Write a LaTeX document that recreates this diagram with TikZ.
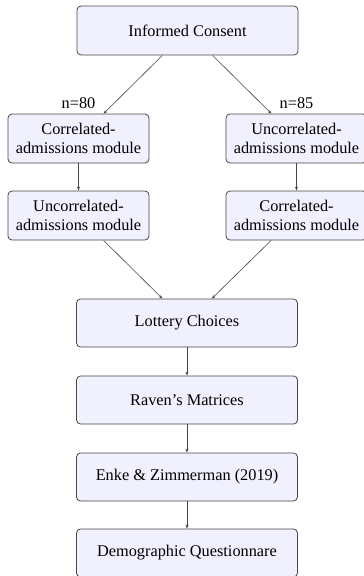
\documentclass[tikz,border=0pt]{standalone}
\usepackage{fontspec}
\setmainfont{Liberation Serif}
\usepackage{xcolor}
\usetikzlibrary{arrows.meta, positioning}
\definecolor{boxfill}{RGB}{240, 240, 254}
\definecolor{boxline}{RGB}{70, 70, 70}

\begin{document}
\begin{tikzpicture}[x=1pt, y=1pt,
  stage/.style={draw=boxline, fill=boxfill, rounded corners=4pt, line width=0.8pt,
    minimum height=49pt, inner sep=0pt, align=center,
    font=\fontsize{16.3}{19}\selectfont},
  wide/.style={stage, minimum width=221pt},
  narrow/.style={stage, minimum width=141pt},
  flow/.style={-{Stealth[length=4pt, width=3pt]}, boxline, line width=0.6pt}]
\useasboundingbox (0,0) rectangle (364,-576);
\node[wide] (consent) at (187.5,-30.5) {Informed Consent};
\node[narrow] (corrA) at (78.5,-138.5) {Correlated-\\admissions module};
\node[narrow] (uncorrB) at (296.5,-138.5) {Uncorrelated-\\admissions module};
\node[narrow] (uncorrA) at (78.5,-215.5) {Uncorrelated-\\admissions module};
\node[narrow] (corrB) at (296.5,-215.5) {Correlated-\\admissions module};
\node[font=\fontsize{16.3}{19}\selectfont, above=1pt of corrA] (nA) {n=80};
\node[font=\fontsize{16.3}{19}\selectfont, above=1pt of uncorrB] (nB) {n=85};
\node[wide, minimum height=48pt] (lottery) at (187,-323) {Lottery Choices};
\node[wide, minimum height=48pt] (raven) at (187,-400) {Raven's Matrices};
\node[wide, minimum height=48pt] (enke) at (187,-477) {Enke \& Zimmerman (2019)};
\node[wide, minimum height=48pt] (demo) at (187,-553) {Demographic Questionnare};
\draw[flow] (consent) -- (corrA);
\draw[flow] (consent) -- (uncorrB);
\draw[flow] (corrA) -- (uncorrA);
\draw[flow] (uncorrB) -- (corrB);
\draw[flow] (uncorrA) -- (lottery);
\draw[flow] (corrB) -- (lottery);
\draw[flow] (lottery) -- (raven);
\draw[flow] (raven) -- (enke);
\draw[flow] (enke) -- (demo);
\end{tikzpicture}
\end{document}
